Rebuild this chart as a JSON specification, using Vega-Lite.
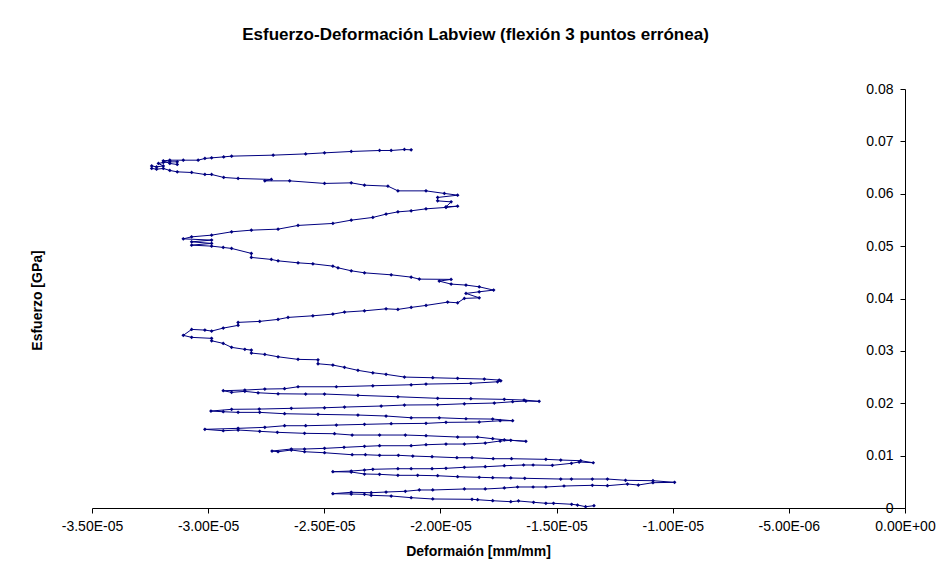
{
  "$schema": "https://vega.github.io/schema/vega-lite/v6.json",
  "width": 813,
  "height": 419,
  "autosize": {"type": "none"},
  "padding": {"left": 92, "top": 89, "right": 43, "bottom": 67},
  "background": "white",
  "config": {
    "view": {"stroke": null},
    "font": "Liberation Sans",
    "axis": {"grid": false, "domainColor": "#000000", "tickColor": "#000000", "labelColor": "#000000", "titleColor": "#000000", "labelFont": "Liberation Sans", "titleFont": "Liberation Sans"}
  },
  "title": {
    "text": "Esfuerzo-Deformación Labview (flexión 3 puntos errónea)",
    "fontSize": 17,
    "fontWeight": "bold",
    "font": "Liberation Sans",
    "color": "#000000",
    "anchor": "middle",
    "frame": "group",
    "dx": -23,
    "offset": 38
  },
  "data": {"values": [
{"i":0,"x":-1.339e-5,"y":0.00044},{"i":1,"x":-1.375e-5,"y":0.00025},{"i":2,"x":-1.410e-5,"y":0.00057},{"i":3,"x":-1.435e-5,"y":0.00071},{"i":4,"x":-1.513e-5,"y":0.00090},{"i":5,"x":-1.546e-5,"y":0.00090},{"i":6,"x":-1.599e-5,"y":0.00109},{"i":7,"x":-1.664e-5,"y":0.00134},{"i":8,"x":-1.697e-5,"y":0.00120},{"i":9,"x":-1.775e-5,"y":0.00139},{"i":10,"x":-1.840e-5,"y":0.00158},{"i":11,"x":-1.864e-5,"y":0.00166},{"i":12,"x":-2.033e-5,"y":0.00172},{"i":13,"x":-2.126e-5,"y":0.00197},{"i":14,"x":-2.212e-5,"y":0.00229},{"i":15,"x":-2.298e-5,"y":0.00242},{"i":16,"x":-2.327e-5,"y":0.00261},{"i":17,"x":-2.384e-5,"y":0.00267},{"i":18,"x":-2.463e-5,"y":0.00273},
{"i":19,"x":-2.384e-5,"y":0.00300},{"i":20,"x":-2.298e-5,"y":0.00292},{"i":21,"x":-2.234e-5,"y":0.00305},{"i":22,"x":-2.151e-5,"y":0.00319},{"i":23,"x":-2.091e-5,"y":0.00344},{"i":24,"x":-2.033e-5,"y":0.00344},{"i":25,"x":-1.897e-5,"y":0.00363},{"i":26,"x":-1.807e-5,"y":0.00363},{"i":27,"x":-1.725e-5,"y":0.00382},{"i":28,"x":-1.668e-5,"y":0.00401},{"i":29,"x":-1.601e-5,"y":0.00401},{"i":30,"x":-1.546e-5,"y":0.00401},{"i":31,"x":-1.468e-5,"y":0.00420},{"i":32,"x":-1.346e-5,"y":0.00433},{"i":33,"x":-1.281e-5,"y":0.00426},{"i":34,"x":-1.195e-5,"y":0.00458},{"i":35,"x":-1.148e-5,"y":0.00439},{"i":36,"x":-1.085e-5,"y":0.00483},{"i":37,"x":-0.992e-5,"y":0.00490},
{"i":38,"x":-1.085e-5,"y":0.00521},{"i":39,"x":-1.203e-5,"y":0.00529},{"i":40,"x":-1.281e-5,"y":0.00553},{"i":41,"x":-1.346e-5,"y":0.00553},{"i":42,"x":-1.436e-5,"y":0.00553},{"i":43,"x":-1.482e-5,"y":0.00553},{"i":44,"x":-1.637e-5,"y":0.00567},{"i":45,"x":-1.697e-5,"y":0.00573},{"i":46,"x":-1.775e-5,"y":0.00578},{"i":47,"x":-1.833e-5,"y":0.00586},{"i":48,"x":-1.926e-5,"y":0.00597},{"i":49,"x":-2.012e-5,"y":0.00616},{"i":50,"x":-2.098e-5,"y":0.00624},{"i":51,"x":-2.183e-5,"y":0.00624},{"i":52,"x":-2.262e-5,"y":0.00643},{"i":53,"x":-2.327e-5,"y":0.00649},{"i":54,"x":-2.384e-5,"y":0.00687},{"i":55,"x":-2.463e-5,"y":0.00693},
{"i":56,"x":-2.384e-5,"y":0.00706},{"i":57,"x":-2.327e-5,"y":0.00725},{"i":58,"x":-2.291e-5,"y":0.00739},{"i":59,"x":-2.183e-5,"y":0.00750},{"i":60,"x":-2.126e-5,"y":0.00750},{"i":61,"x":-2.036e-5,"y":0.00750},{"i":62,"x":-1.976e-5,"y":0.00758},{"i":63,"x":-1.897e-5,"y":0.00777},{"i":64,"x":-1.807e-5,"y":0.00788},{"i":65,"x":-1.725e-5,"y":0.00807},{"i":66,"x":-1.642e-5,"y":0.00821},{"i":67,"x":-1.601e-5,"y":0.00821},{"i":68,"x":-1.518e-5,"y":0.00815},{"i":69,"x":-1.436e-5,"y":0.00853},{"i":70,"x":-1.403e-5,"y":0.00878},{"i":71,"x":-1.342e-5,"y":0.00864},
{"i":72,"x":-1.396e-5,"y":0.00903},{"i":73,"x":-1.482e-5,"y":0.00916},{"i":74,"x":-1.546e-5,"y":0.00929},{"i":75,"x":-1.694e-5,"y":0.00941},{"i":76,"x":-1.773e-5,"y":0.00941},{"i":77,"x":-1.864e-5,"y":0.00960},{"i":78,"x":-1.929e-5,"y":0.00960},{"i":79,"x":-2.036e-5,"y":0.00979},{"i":80,"x":-2.119e-5,"y":0.00992},{"i":81,"x":-2.181e-5,"y":0.01006},{"i":82,"x":-2.262e-5,"y":0.01006},{"i":83,"x":-2.323e-5,"y":0.01017},{"i":84,"x":-2.380e-5,"y":0.01017},{"i":85,"x":-2.499e-5,"y":0.01055},{"i":86,"x":-2.585e-5,"y":0.01074},{"i":87,"x":-2.642e-5,"y":0.01107},{"i":88,"x":-2.699e-5,"y":0.01074},{"i":89,"x":-2.725e-5,"y":0.01088},
{"i":90,"x":-2.642e-5,"y":0.01126},{"i":91,"x":-2.585e-5,"y":0.01126},{"i":92,"x":-2.499e-5,"y":0.01139},{"i":93,"x":-2.415e-5,"y":0.01158},{"i":94,"x":-2.327e-5,"y":0.01177},{"i":95,"x":-2.262e-5,"y":0.01189},{"i":96,"x":-2.126e-5,"y":0.01189},{"i":97,"x":-2.062e-5,"y":0.01208},{"i":98,"x":-1.976e-5,"y":0.01221},{"i":99,"x":-1.897e-5,"y":0.01221},{"i":100,"x":-1.807e-5,"y":0.01240},{"i":101,"x":-1.743e-5,"y":0.01279},{"i":102,"x":-1.697e-5,"y":0.01292},{"i":103,"x":-1.632e-5,"y":0.01273},
{"i":104,"x":-1.725e-5,"y":0.01303},{"i":105,"x":-1.775e-5,"y":0.01323},{"i":106,"x":-1.840e-5,"y":0.01355},{"i":107,"x":-1.926e-5,"y":0.01355},{"i":108,"x":-2.062e-5,"y":0.01380},{"i":109,"x":-2.151e-5,"y":0.01393},{"i":110,"x":-2.262e-5,"y":0.01393},{"i":111,"x":-2.380e-5,"y":0.01393},{"i":112,"x":-2.456e-5,"y":0.01418},{"i":113,"x":-2.585e-5,"y":0.01426},{"i":114,"x":-2.702e-5,"y":0.01445},{"i":115,"x":-2.778e-5,"y":0.01464},{"i":116,"x":-2.871e-5,"y":0.01489},{"i":117,"x":-2.935e-5,"y":0.01475},{"i":118,"x":-3.014e-5,"y":0.01502},
{"i":119,"x":-2.871e-5,"y":0.01521},{"i":120,"x":-2.756e-5,"y":0.01540},{"i":121,"x":-2.671e-5,"y":0.01571},{"i":122,"x":-2.580e-5,"y":0.01571},{"i":123,"x":-2.448e-5,"y":0.01584},{"i":124,"x":-2.327e-5,"y":0.01597},{"i":125,"x":-2.212e-5,"y":0.01609},{"i":126,"x":-2.062e-5,"y":0.01616},{"i":127,"x":-1.976e-5,"y":0.01635},{"i":128,"x":-1.833e-5,"y":0.01641},{"i":129,"x":-1.743e-5,"y":0.01666},{"i":130,"x":-1.689e-5,"y":0.01666},
{"i":131,"x":-1.775e-5,"y":0.01698},{"i":132,"x":-1.890e-5,"y":0.01704},{"i":133,"x":-2.005e-5,"y":0.01723},{"i":134,"x":-2.126e-5,"y":0.01723},{"i":135,"x":-2.234e-5,"y":0.01756},{"i":136,"x":-2.355e-5,"y":0.01775},{"i":137,"x":-2.527e-5,"y":0.01788},{"i":138,"x":-2.671e-5,"y":0.01800},{"i":139,"x":-2.778e-5,"y":0.01826},{"i":140,"x":-2.871e-5,"y":0.01826},{"i":141,"x":-2.935e-5,"y":0.01838},{"i":142,"x":-2.988e-5,"y":0.01851},
{"i":143,"x":-2.899e-5,"y":0.01884},{"i":144,"x":-2.780e-5,"y":0.01889},{"i":145,"x":-2.642e-5,"y":0.01903},{"i":146,"x":-2.499e-5,"y":0.01914},{"i":147,"x":-2.413e-5,"y":0.01927},{"i":148,"x":-2.255e-5,"y":0.01947},{"i":149,"x":-2.155e-5,"y":0.01966},{"i":150,"x":-2.012e-5,"y":0.01971},{"i":151,"x":-1.897e-5,"y":0.01990},{"i":152,"x":-1.768e-5,"y":0.02004},{"i":153,"x":-1.689e-5,"y":0.02029},{"i":154,"x":-1.632e-5,"y":0.02042},{"i":155,"x":-1.575e-5,"y":0.02036},
{"i":156,"x":-1.640e-5,"y":0.02061},{"i":157,"x":-1.725e-5,"y":0.02074},{"i":158,"x":-1.869e-5,"y":0.02086},{"i":159,"x":-2.012e-5,"y":0.02094},{"i":160,"x":-2.183e-5,"y":0.02124},{"i":161,"x":-2.355e-5,"y":0.02151},{"i":162,"x":-2.499e-5,"y":0.02176},{"i":163,"x":-2.580e-5,"y":0.02176},{"i":164,"x":-2.699e-5,"y":0.02181},{"i":165,"x":-2.785e-5,"y":0.02200},{"i":166,"x":-2.842e-5,"y":0.02227},{"i":167,"x":-2.899e-5,"y":0.02208},{"i":168,"x":-2.935e-5,"y":0.02239},
{"i":169,"x":-2.842e-5,"y":0.02252},{"i":170,"x":-2.756e-5,"y":0.02271},{"i":171,"x":-2.671e-5,"y":0.02277},{"i":172,"x":-2.613e-5,"y":0.02315},{"i":173,"x":-2.448e-5,"y":0.02315},{"i":174,"x":-2.291e-5,"y":0.02334},{"i":175,"x":-2.126e-5,"y":0.02353},{"i":176,"x":-2.062e-5,"y":0.02366},{"i":177,"x":-1.869e-5,"y":0.02380},{"i":178,"x":-1.754e-5,"y":0.02410},{"i":179,"x":-1.740e-5,"y":0.02429},
{"i":180,"x":-1.747e-5,"y":0.02443},{"i":181,"x":-1.811e-5,"y":0.02462},{"i":182,"x":-1.926e-5,"y":0.02475},{"i":183,"x":-2.033e-5,"y":0.02487},{"i":184,"x":-2.155e-5,"y":0.02500},{"i":185,"x":-2.234e-5,"y":0.02552},{"i":186,"x":-2.291e-5,"y":0.02582},{"i":187,"x":-2.355e-5,"y":0.02628},{"i":188,"x":-2.413e-5,"y":0.02685},{"i":189,"x":-2.463e-5,"y":0.02729},{"i":190,"x":-2.527e-5,"y":0.02754},{"i":191,"x":-2.527e-5,"y":0.02830},{"i":192,"x":-2.613e-5,"y":0.02838},{"i":193,"x":-2.699e-5,"y":0.02887},{"i":194,"x":-2.756e-5,"y":0.02933},{"i":195,"x":-2.814e-5,"y":0.02958},{"i":196,"x":-2.814e-5,"y":0.03015},{"i":197,"x":-2.842e-5,"y":0.03029},{"i":198,"x":-2.899e-5,"y":0.03067},{"i":199,"x":-2.935e-5,"y":0.03143},{"i":200,"x":-2.985e-5,"y":0.03193},{"i":201,"x":-2.985e-5,"y":0.03239},{"i":202,"x":-3.071e-5,"y":0.03258},{"i":203,"x":-3.107e-5,"y":0.03296},
{"i":204,"x":-3.071e-5,"y":0.03410},{"i":205,"x":-3.014e-5,"y":0.03397},{"i":206,"x":-2.985e-5,"y":0.03378},{"i":207,"x":-2.935e-5,"y":0.03435},{"i":208,"x":-2.871e-5,"y":0.03487},{"i":209,"x":-2.871e-5,"y":0.03544},{"i":210,"x":-2.778e-5,"y":0.03563},{"i":211,"x":-2.699e-5,"y":0.03601},{"i":212,"x":-2.656e-5,"y":0.03639},{"i":213,"x":-2.549e-5,"y":0.03670},{"i":214,"x":-2.463e-5,"y":0.03702},{"i":215,"x":-2.413e-5,"y":0.03740},{"i":216,"x":-2.327e-5,"y":0.03765},{"i":217,"x":-2.234e-5,"y":0.03803},{"i":218,"x":-2.183e-5,"y":0.03792},{"i":219,"x":-2.126e-5,"y":0.03830},{"i":220,"x":-2.062e-5,"y":0.03868},{"i":221,"x":-1.969e-5,"y":0.03931},{"i":222,"x":-1.926e-5,"y":0.03918},{"i":223,"x":-1.897e-5,"y":0.04002},{"i":224,"x":-1.833e-5,"y":0.04013},{"i":225,"x":-1.890e-5,"y":0.04097},{"i":226,"x":-1.833e-5,"y":0.04128},{"i":227,"x":-1.771e-5,"y":0.04160},
{"i":228,"x":-1.833e-5,"y":0.04223},{"i":229,"x":-1.890e-5,"y":0.04256},{"i":230,"x":-1.954e-5,"y":0.04275},{"i":231,"x":-2.005e-5,"y":0.04332},{"i":232,"x":-1.954e-5,"y":0.04365},{"i":233,"x":-2.091e-5,"y":0.04370},{"i":234,"x":-2.126e-5,"y":0.04408},{"i":235,"x":-2.212e-5,"y":0.04452},{"i":236,"x":-2.327e-5,"y":0.04490},{"i":237,"x":-2.384e-5,"y":0.04529},{"i":238,"x":-2.441e-5,"y":0.04586},{"i":239,"x":-2.463e-5,"y":0.04618},{"i":240,"x":-2.549e-5,"y":0.04662},{"i":241,"x":-2.613e-5,"y":0.04681},{"i":242,"x":-2.699e-5,"y":0.04719},{"i":243,"x":-2.728e-5,"y":0.04746},{"i":244,"x":-2.814e-5,"y":0.04784},{"i":245,"x":-2.814e-5,"y":0.04861},{"i":246,"x":-2.899e-5,"y":0.04956},{"i":247,"x":-2.935e-5,"y":0.04975},{"i":248,"x":-2.985e-5,"y":0.05000},{"i":249,"x":-3.071e-5,"y":0.05019},{"i":250,"x":-2.985e-5,"y":0.05052},{"i":251,"x":-3.071e-5,"y":0.05082},{"i":252,"x":-2.985e-5,"y":0.05115},{"i":253,"x":-3.107e-5,"y":0.05139},
{"i":254,"x":-3.071e-5,"y":0.05177},{"i":255,"x":-2.985e-5,"y":0.05210},{"i":256,"x":-2.899e-5,"y":0.05273},{"i":257,"x":-2.814e-5,"y":0.05305},{"i":258,"x":-2.699e-5,"y":0.05324},{"i":259,"x":-2.613e-5,"y":0.05395},{"i":260,"x":-2.463e-5,"y":0.05433},{"i":261,"x":-2.384e-5,"y":0.05496},{"i":262,"x":-2.291e-5,"y":0.05548},{"i":263,"x":-2.234e-5,"y":0.05611},{"i":264,"x":-2.183e-5,"y":0.05654},{"i":265,"x":-2.126e-5,"y":0.05674},{"i":266,"x":-2.062e-5,"y":0.05712},{"i":267,"x":-1.976e-5,"y":0.05739},{"i":268,"x":-1.926e-5,"y":0.05763},
{"i":269,"x":-1.976e-5,"y":0.05750},{"i":270,"x":-1.954e-5,"y":0.05845},{"i":271,"x":-2.012e-5,"y":0.05864},{"i":272,"x":-2.012e-5,"y":0.05929},{"i":273,"x":-1.926e-5,"y":0.05973},{"i":274,"x":-1.983e-5,"y":0.06006},{"i":275,"x":-2.062e-5,"y":0.06055},{"i":276,"x":-2.183e-5,"y":0.06055},{"i":277,"x":-2.226e-5,"y":0.06145},{"i":278,"x":-2.327e-5,"y":0.06164},{"i":279,"x":-2.384e-5,"y":0.06208},{"i":280,"x":-2.499e-5,"y":0.06197},{"i":281,"x":-2.649e-5,"y":0.06246},{"i":282,"x":-2.756e-5,"y":0.06246},{"i":283,"x":-2.728e-5,"y":0.06273},{"i":284,"x":-2.871e-5,"y":0.06292},{"i":285,"x":-2.933e-5,"y":0.06311},{"i":286,"x":-2.985e-5,"y":0.06368},{"i":287,"x":-3.014e-5,"y":0.06368},{"i":288,"x":-3.071e-5,"y":0.06406},{"i":289,"x":-3.133e-5,"y":0.06418},{"i":290,"x":-3.165e-5,"y":0.06445},{"i":291,"x":-3.193e-5,"y":0.06483},{"i":292,"x":-3.222e-5,"y":0.06469},{"i":293,"x":-3.243e-5,"y":0.06483},{"i":294,"x":-3.243e-5,"y":0.06532},{"i":295,"x":-3.222e-5,"y":0.06513},{"i":296,"x":-3.193e-5,"y":0.06532},{"i":297,"x":-3.214e-5,"y":0.06578},{"i":298,"x":-3.193e-5,"y":0.06597},{"i":299,"x":-3.165e-5,"y":0.06609},{"i":300,"x":-3.133e-5,"y":0.06609},{"i":301,"x":-3.133e-5,"y":0.06559},{"i":302,"x":-3.165e-5,"y":0.06578},{"i":303,"x":-3.193e-5,"y":0.06628},{"i":304,"x":-3.165e-5,"y":0.06641},
{"i":305,"x":-3.107e-5,"y":0.06641},{"i":306,"x":-3.043e-5,"y":0.06641},{"i":307,"x":-3.014e-5,"y":0.06674},{"i":308,"x":-2.985e-5,"y":0.06685},{"i":309,"x":-2.933e-5,"y":0.06704},{"i":310,"x":-2.899e-5,"y":0.06718},{"i":311,"x":-2.720e-5,"y":0.06737},{"i":312,"x":-2.580e-5,"y":0.06761},{"i":313,"x":-2.499e-5,"y":0.06781},{"i":314,"x":-2.384e-5,"y":0.06807},{"i":315,"x":-2.262e-5,"y":0.06826},{"i":316,"x":-2.212e-5,"y":0.06826},{"i":317,"x":-2.155e-5,"y":0.06845},{"i":318,"x":-2.126e-5,"y":0.06838}
  ]},
  "encoding": {
    "x": {
      "field": "x", "type": "quantitative",
      "scale": {"domain": [-0.000035, 0], "nice": false, "zero": false},
      "axis": {
        "values": [-0.000035, -0.00003, -0.000025, -0.00002, -0.000015, -0.00001, -0.000005, 0],
        "labelExpr": "datum.value == 0 ? '0.00E+00' : (abs(datum.value) < 0.0000099 ? '-' + format(abs(datum.value) * 1000000, '.2f') + 'E-06' : '-' + format(abs(datum.value) * 100000, '.2f') + 'E-05')",
        "labelFontSize": 14,
        "labelPadding": 6,
        "tickSize": 5,
        "labelFlush": false,
        "labelOverlap": false,
        "title": "Deformaión [mm/mm]",
        "titleFontSize": 14,
        "titleFontWeight": "bold",
        "titleX": 386,
        "titleY": 43,
        "titleAlign": "center",
        "titleBaseline": "middle"
      }
    },
    "y": {
      "field": "y", "type": "quantitative",
      "scale": {"domain": [0, 0.08], "nice": false},
      "axis": {
        "orient": "left",
        "offset": -813,
        "values": [0, 0.01, 0.02, 0.03, 0.04, 0.05, 0.06, 0.07, 0.08],
        "labelExpr": "datum.value == 0 ? '0' : format(datum.value, '.2f')",
        "labelFontSize": 14,
        "labelPadding": 7,
        "tickSize": 5,
        "labelOverlap": false,
        "title": "Esfuerzo [GPa]",
        "titleFontSize": 14,
        "titleFontWeight": "bold",
        "titleX": -868,
        "titleY": 211,
        "titleAngle": -90,
        "titleAlign": "center",
        "titleBaseline": "middle"
      }
    },
    "order": {"field": "i", "type": "quantitative"}
  },
  "layer": [
    {"mark": {"type": "line", "color": "#000080", "strokeWidth": 1}},
    {"mark": {"type": "point", "shape": "diamond", "filled": true, "color": "#000080", "size": 14, "opacity": 1}}
  ]
}
